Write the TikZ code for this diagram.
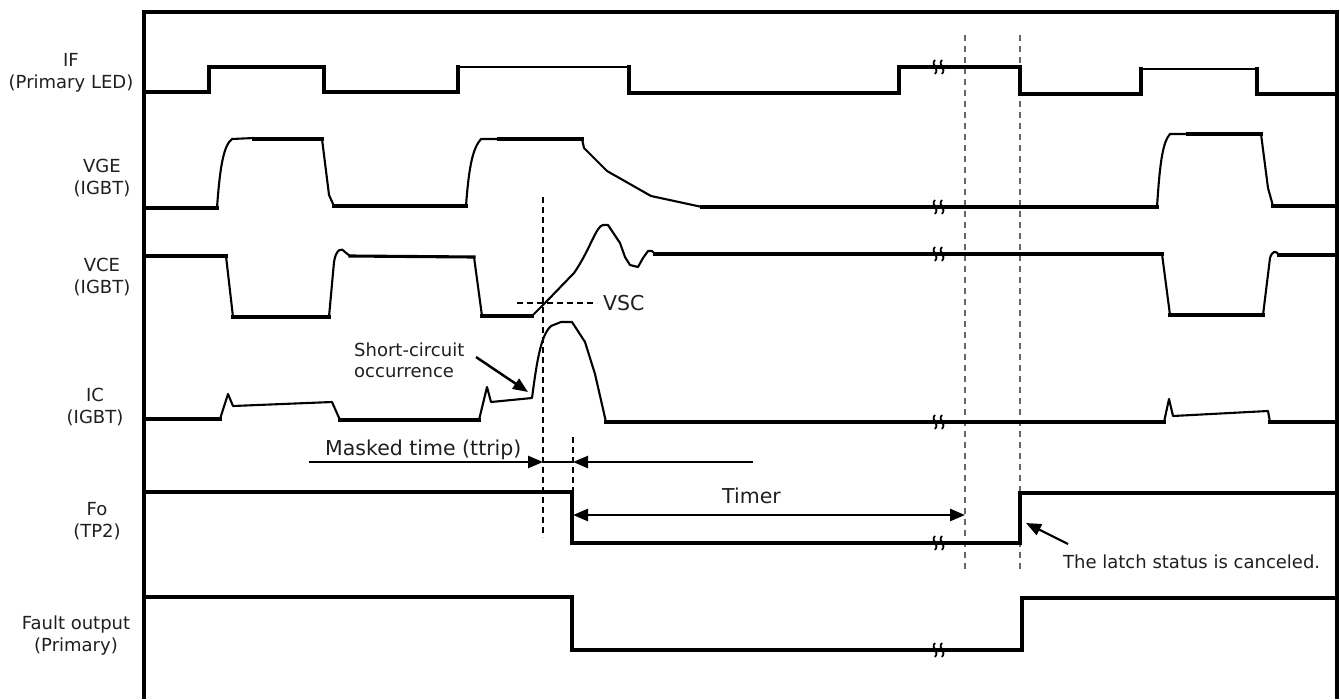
\documentclass[tikz,border=0pt]{standalone}
\usepackage{fontspec}
\setmainfont{DejaVu Sans}
\usetikzlibrary{arrows.meta}
\tikzset{
  sig/.style={line width=3.1pt, line cap=rect, line join=miter},
  thinsig/.style={line width=2.1pt, line cap=round, line join=round},
  frameline/.style={line width=3.4pt},
  lbl/.style={font=\fontsize{18}{22}\selectfont, align=center, inner sep=0pt, text=black!88},
  ann/.style={font=\fontsize{20.5}{24}\selectfont, inner sep=0pt, text=black!88},
  note/.style={font=\fontsize{18}{21}\selectfont, align=left, inner sep=0pt, text=black!88},
  tri/.style={-{Triangle[length=15pt,width=12pt]}, line width=2.5pt},
  guide/.style={dash pattern=on 6pt off 4pt, line width=1.3pt},
  grayguide/.style={dash pattern=on 6pt off 5pt, line width=1.7pt, draw=black!60},
  brk/.pic={
    \draw[line width=1.8pt] (-4,-7) .. controls (-9,-2) and (1,1) .. (-4,7);
    \draw[line width=1.8pt] (3,-7) .. controls (-2,-2) and (8,1) .. (3,7);
  }
}
\begin{document}
\begin{tikzpicture}[x=1pt,y=-1pt]
\useasboundingbox (0,0) rectangle (1340,699);
% frame
\draw[frameline] (144,699) -- (144,12) -- (1337,12) -- (1337,699);

% guides
\draw[guide] (543,197) -- (543,537);
\draw[guide] (573,437) -- (573,492);
\draw[grayguide] (965,35) -- (965,572);
\draw[grayguide] (1020,35) -- (1020,572);

% IF
\draw[sig] (145,92) -- (209,92) -- (209,67) -- (324,67) -- (324,92) -- (458,92) -- (458,67);
\draw[line width=1.7pt] (458,67) -- (629,67);
\draw[sig] (629,67) -- (629,93) -- (899,93) -- (899,67) -- (1020,67) -- (1020,94) -- (1141,94) -- (1141,69);
\draw[line width=2.4pt] (1141,69) -- (1257,69);
\draw[sig] (1257,69) -- (1257,94) -- (1337,94);

% VGE
\draw[sig] (145,208) -- (217,208);
\draw[thinsig] (217,208) .. controls (220,165) and (224,145) .. (232,139) -- (254,138);
\draw[sig] (254,139) -- (322,139);
\draw[thinsig] (322,139) -- (329,195) -- (334,206);
\draw[sig] (334,206) -- (466,206);
\draw[thinsig] (466,206) .. controls (469,165) and (473,148) .. (481,139) -- (499,139);
\draw[sig] (499,139) -- (582,139);
\draw[thinsig] (582,139) -- (584,148) -- (607,171) -- (651,196) -- (702,207);
\draw[sig] (702,207) -- (1157,207);
\draw[thinsig] (1157,207) .. controls (1160,160) and (1163,142) .. (1170,134) -- (1188,134);
\draw[sig] (1188,134) -- (1261,134);
\draw[thinsig] (1261,134) -- (1268,188) -- (1273,206);
\draw[sig] (1273,206) -- (1337,206);

% VCE
\draw[sig] (145,256) -- (226,256);
\draw[thinsig] (226,256) -- (233,317);
\draw[sig] (233,317) -- (329,317);
\draw[thinsig] (329,317) -- (334,262) .. controls (336,249) and (342,247) .. (345,252) -- (350,256);
\draw[sig] (350,256) -- (474,257);
\draw[thinsig] (474,257) -- (482,316);
\draw[sig] (482,316) -- (532,316);
\draw[thinsig] (532,316) -- (545,303) -- (574,273) .. controls (590,250) and (596,226) .. (603,225) -- (608,225) -- (620,243) -- (625,257) -- (630,265) -- (638,267) -- (643,258) -- (648,251) -- (652,251) -- (655,254);
\draw[sig] (655,254) -- (1162,254);
\draw[thinsig] (1162,254) -- (1170,315);
\draw[sig] (1170,315) -- (1263,315);
\draw[thinsig] (1263,315) -- (1270,258) .. controls (1272,251) and (1276,250) .. (1279,255);
\draw[sig] (1279,255) -- (1337,255);

% IC
\draw[sig] (145,419) -- (220,419);
\draw[thinsig] (220,419) -- (228,394) -- (233,406) -- (332,402) -- (340,420);
\draw[sig] (340,420) -- (479,420);
\draw[thinsig] (479,420) -- (487,387) -- (491,402) -- (532,398) .. controls (537,360) and (541,335) .. (551,326) -- (561,322) -- (572,322) -- (585,342) -- (595,374) -- (606,422);
\draw[sig] (606,422) -- (1164,422);
\draw[thinsig] (1164,422) -- (1169,399) -- (1173,416) -- (1268,411) -- (1270,422);
\draw[sig] (1270,422) -- (1337,422);

% Fo
\draw[sig] (145,492) -- (572,492) -- (572,543) -- (1020,543) -- (1020,493) -- (1337,493);
% Fault output
\draw[sig] (145,597) -- (572,597) -- (572,650) -- (1022,650) -- (1022,598) -- (1337,598);

% breaks
\foreach \yy in {67,207,254,422,543,650} { \pic at (939,\yy) {brk}; }

% labels
\node[lbl] (lIF) at (71,73) {IF\\(Primary LED)};
\node[lbl] (lVGE) at (102,178.5) {VGE\\(IGBT)};
\node[lbl] (lVCE) at (102,277.5) {VCE\\(IGBT)};
\node[lbl] (lIC) at (95,407) {IC\\(IGBT)};
\node[lbl] (lFo) at (97,521.5) {Fo\\(TP2)};
\node[lbl] (lFault) at (76,636) {Fault output\\(Primary)};

% annotations
\node[ann, anchor=base west] (vsc) at (603,310) {VSC};
\coordinate (vscL) at (517,303);
\coordinate (vscR) at (597,303);
\draw[guide] (vscL) -- (vscR);

\node[note, anchor=west] (sc) at (354,360.5) {Short-circuit\\occurrence};
\coordinate (scA) at (476,357);
\coordinate (scB) at (528,392);
\draw[tri] (scA) -- (scB);

\node[ann, anchor=base west] (mask) at (325,455) {Masked time (ttrip)};
\coordinate (mA) at (309,462);
\coordinate (mB) at (543,462);
\coordinate (mC) at (573,462);
\coordinate (mD) at (753,462);
\draw[tri] (mA) -- (mB);
\draw[line width=2.5pt] (mB) -- (mC);
\draw[tri] (mD) -- (mC);

\node[ann, anchor=base west] (timer) at (722,503) {Timer};
\coordinate (tA) at (573,515);
\coordinate (tB) at (965,515);
\draw[tri, {Triangle[length=15pt,width=12pt]}-{Triangle[length=15pt,width=12pt]}] (tA) -- (tB);

\node[note, anchor=base west] (latch) at (1063,568) {The latch status is canceled.};
\coordinate (lA) at (1068,544);
\coordinate (lB) at (1026,523);
\draw[tri, line width=2.2pt] (lA) -- (lB);
\end{tikzpicture}
\end{document}
